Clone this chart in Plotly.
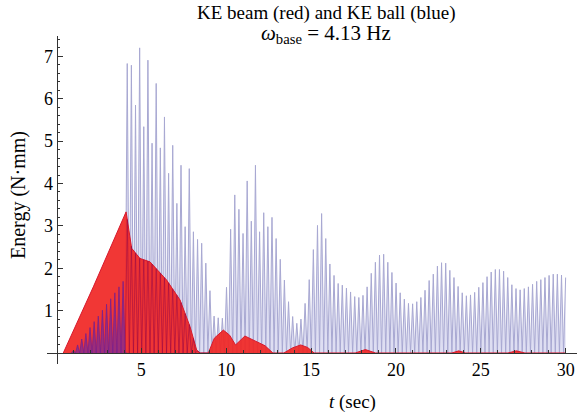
import numpy as np
import plotly.graph_objects as go

# ---------------- data ----------------
# KE ball (blue): successive oscillation peak heights (N·mm), troughs reach 0
BALL_T0 = 1.0          # time of first visible ball peak (s)
BALL_PERIOD = 0.2437   # spacing between peaks (s)
ball_peaks_early = [0.06, 0.19, 0.33, 0.46, 0.60, 0.74, 0.87, 1.01, 1.15,
                    1.28, 1.42, 1.56, 1.69]
ball_peaks_main = [
    6.83, 6.79, 5.85, 7.20, 5.34, 6.91, 4.95, 6.36, 4.84, 5.57,
    4.24, 4.90, 3.53, 4.43, 2.98, 4.35, 2.86, 2.68, 2.59, 2.12,
    1.47, 0.87, 0.83, 0.82, 1.55, 2.92, 3.73, 3.39, 2.82, 4.06,
    3.11, 4.43, 2.86, 3.31, 2.98, 3.20, 2.70, 2.21, 1.72, 1.21,
    0.86, 0.70, 0.80, 1.17, 1.73, 2.44, 3.01, 3.29, 2.70, 2.10,
    1.83, 1.64, 1.60, 1.53, 1.44, 1.33, 1.31, 1.36, 1.56, 1.88,
    2.14, 2.31, 2.33, 2.14, 1.90, 1.65, 1.42, 1.27, 1.17, 1.16,
    1.21, 1.31, 1.48, 1.71, 1.86, 2.05, 2.13, 2.12, 1.95, 1.78,
    1.57, 1.42, 1.35, 1.37, 1.43, 1.55, 1.66, 1.80, 1.91, 1.97,
    1.97, 1.93, 1.78, 1.61, 1.52, 1.49, 1.52, 1.56, 1.62, 1.69,
    1.73, 1.78, 1.83, 1.86, 1.86, 1.84, 1.78]

# KE beam (red): envelope of the filled red region
beam_t = [0.40, 2.17, 4.10, 4.43, 4.92, 5.51, 6.49, 7.28, 7.87, 8.26, 8.46,
          8.95, 9.30, 9.83, 10.20, 10.55, 11.10, 11.70, 12.29, 12.75,
          13.40, 13.90, 14.39, 14.80, 15.18,
          17.60, 18.20, 18.80, 23.30, 23.70, 24.10, 26.60, 27.10, 27.60, 30.00]
beam_e = [0.00, 1.56, 3.33, 2.47, 2.23, 2.15, 1.72, 1.25, 0.62, 0.07, 0.00,
          0.00, 0.35, 0.54, 0.42, 0.19, 0.40, 0.28, 0.17, 0.00,
          0.00, 0.12, 0.19, 0.13, 0.00,
          0.00, 0.08, 0.00, 0.00, 0.05, 0.00, 0.00, 0.05, 0.00, 0.00]

x_ticks = [5, 10, 15, 20, 25, 30]
y_ticks = [1, 2, 3, 4, 5, 6, 7]

# ---------------- build traces ----------------
def ball_path(peaks, t_first):
    xs, ys = [t_first - BALL_PERIOD / 2], [0.0]
    for i, p in enumerate(peaks):
        tp = t_first + i * BALL_PERIOD
        xs.append(tp); ys.append(p)
        if i < len(peaks) - 1:
            xs.append(tp + BALL_PERIOD / 2); ys.append(0.0)
    return xs, ys

all_peaks = ball_peaks_early + ball_peaks_main
bx, by = ball_path(all_peaks, BALL_T0)
ex, ey = ball_path(ball_peaks_early + [0.0], BALL_T0)

# part of the ball curve that lies inside the red beam area (drawn on top)
bx_arr = np.array(bx)
inside = np.minimum(np.array(by), np.interp(bx_arr, beam_t, beam_e))
t_main0 = BALL_T0 + len(ball_peaks_early) * BALL_PERIOD - BALL_PERIOD / 2
mask = (bx_arr >= t_main0) & (bx_arr <= 9.0)
ox, oy = bx_arr[mask], inside[mask]

W, H = 577, 419
L, T = 47, 36
PW, PH = 530, 328

XMIN, XMAX = -0.56, 30.67
YMIN, YMAX = -0.26, 7.48

def px(xp):   # page x -> paper
    return (xp - L) / PW

def py(yp):   # page y -> paper
    return 1 - (yp - T) / PH

fig = go.Figure()
fig.add_trace(go.Scatter(x=bx, y=by, mode="lines", fill="tozeroy",
                         fillcolor="rgb(222,222,242)",
                         line=dict(color="rgb(168,168,210)", width=1),
                         hoverinfo="skip", showlegend=False))
fig.add_trace(go.Scatter(x=beam_t, y=beam_e, mode="lines", fill="tozeroy",
                         fillcolor="rgba(240,38,36,0.92)",
                         line=dict(color="rgb(215,25,45)", width=1),
                         hoverinfo="skip", showlegend=False))
fig.add_trace(go.Scatter(x=ox, y=oy, mode="lines",
                         line=dict(color="rgba(140,0,70,0.45)", width=1),
                         hoverinfo="skip", showlegend=False))
fig.add_trace(go.Scatter(x=ex, y=ey, mode="lines", fill="tozeroy",
                         fillcolor="rgba(100,40,170,0.6)",
                         line=dict(color="rgba(110,30,150,0.65)", width=1),
                         hoverinfo="skip", showlegend=False))

serif = "Liberation Serif"
fig.update_layout(
    width=W, height=H,
    margin=dict(l=L, r=W - L - PW, t=T, b=H - T - PH, autoexpand=False),
    paper_bgcolor="white", plot_bgcolor="white",
    font=dict(family=serif, size=18, color="black"),
    showlegend=False,
    xaxis=dict(range=[XMIN, XMAX], domain=[0, 1], anchor="free",
               position=(0 - YMIN) / (YMAX - YMIN),
               showline=True, linecolor="#333", linewidth=1,
               showgrid=False, zeroline=False,
               ticks="inside", ticklen=5, tickcolor="#333",
               tickmode="array", tickvals=x_ticks,
               ticktext=[str(v) for v in x_ticks],
               minor=dict(ticks="inside", ticklen=2.5, tickcolor="#333",
                          tickmode="array",
                          tickvals=[v for v in range(1, 31) if v % 5]),
               tickfont=dict(family=serif, size=18, color="black")),
    yaxis=dict(range=[YMIN, YMAX], domain=[0, 1], anchor="free",
               position=(0 - XMIN) / (XMAX - XMIN),
               showline=True, linecolor="#333", linewidth=1,
               showgrid=False, zeroline=False,
               ticks="inside", ticklen=5, tickcolor="#333",
               tickmode="array", tickvals=y_ticks,
               ticktext=[str(v) for v in y_ticks],
               minor=dict(ticks="inside", ticklen=2.5, tickcolor="#333",
                          tickmode="array",
                          tickvals=[round(0.2 * k, 1) for k in range(1, 38) if k % 5]),
               tickfont=dict(family=serif, size=18, color="black")),
    annotations=[
        dict(text="KE beam (red) and KE ball (blue)", xref="paper", yref="paper",
             x=px(326), y=py(13), showarrow=False,
             xanchor="center", yanchor="middle", font=dict(family=serif, size=19)),
        dict(text="<i>ω</i><sub>base</sub> = 4.13 Hz", xref="paper", yref="paper",
             x=px(326), y=py(34), showarrow=False,
             xanchor="center", yanchor="middle", font=dict(family=serif, size=21)),
        dict(text="<i>t</i> (sec)", xref="paper", yref="paper",
             x=px(352), y=py(402), showarrow=False,
             xanchor="center", yanchor="middle", font=dict(family=serif, size=19)),
        dict(text="Energy (N·mm)", xref="paper", yref="paper",
             x=px(18), y=py(195), showarrow=False,
             textangle=-90, xanchor="center", yanchor="middle",
             font=dict(family=serif, size=20)),
    ],
)

fig.write_html("out.html",
               config={"displayModeBar": False, "staticPlot": True},
               post_script="document.body.style.margin='0';"
                           "document.body.style.overflow='hidden';")
